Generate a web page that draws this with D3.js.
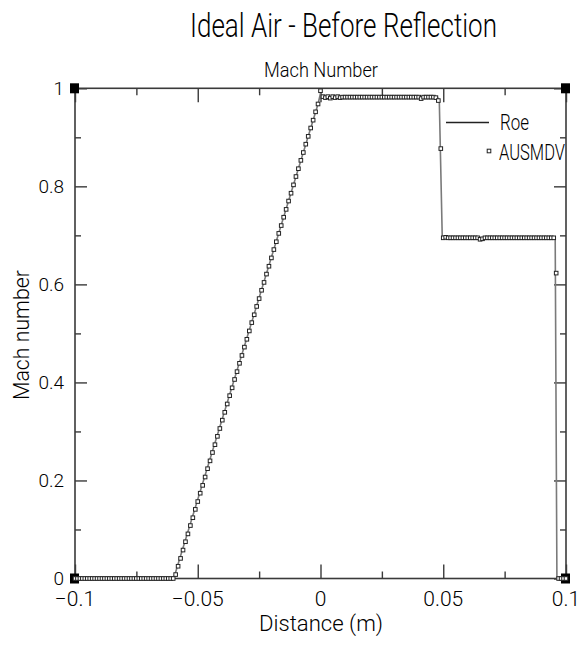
<!DOCTYPE html>
<html>
<head>
<meta charset="utf-8">
<script src="https://cdn.jsdelivr.net/npm/d3@7"></script>
<style>
  html, body { margin: 0; padding: 0; background: #fff; }
  svg { display: block; }
  text { font-family: Roboto, "DejaVu Sans", sans-serif; font-weight: 300; fill: #000; }
</style>
</head>
<body>
<svg id="chart" width="578" height="647"></svg>
<script>
// ---------------- DATA ----------------
const titleText = "Ideal Air - Before Reflection";
const subtitleText = "Mach Number";
const xAxisTitle = "Distance (m)";
const yAxisTitle = "Mach number";

const xTickValues = [-0.1, -0.05, 0, 0.05, 0.1];
const xTickLabels = ["\u22120.1", "\u22120.05", "0", "0.05", "0.1"];
const xMinorTicks = [-0.075, -0.025, 0.025, 0.075];
const yTickValues = [0, 0.2, 0.4, 0.6, 0.8, 1];
const yTickLabels = ["0", "0.2", "0.4", "0.6", "0.8", "1"];
const yMinorTicks = [0.1, 0.3, 0.5, 0.7, 0.9];

const seriesNames = ["Roe", "AUSMDV"];

// Roe solution (corner points of the solid line), distance in m
const roeDistance = [-0.1, -0.0598, -0.001, 0.0, 0.001, 0.0476, 0.0484, 0.0496, 0.0956, 0.0963, 0.1];
const roeMach     = [0,     0,      0.968,  0.99, 0.982, 0.982, 0.972, 0.695, 0.695, 0,      0];

// AUSMDV solution (square markers): distance in mm
const ausmdvDistanceMm = [
 -100,-99,-98,-97,-96,-95,-94,-93,-92,-91,-90,-89,-88,-87,-86,-85,-84,-83,-82,-81,
 -80,-79,-78,-77,-76,-75,-74,-73,-72,-71,-70,-69,-68,-67,-66,-65,-64,-63,-62,-61,
 -60,-59,-58,-57,-56,-55,-54,-53,-52,-51,-50,-49,-48,-47,-46,-45,-44,-43,-42,-41,
 -40,-39,-38,-37,-36,-35,-34,-33,-32,-31,-30,-29,-28,-27,-26,-25,-24,-23,-22,-21,
 -20,-19,-18,-17,-16,-15,-14,-13,-12,-11,-10,-9,-8,-7,-6,-5,-4,-3,-2,-1,
 0,1,2,3,4,5,6,7,8,9,10,11,12,13,14,15,16,17,18,19,
 20,21,22,23,24,25,26,27,28,29,30,31,32,33,34,35,36,37,38,39,
 40,41,42,43,44,45,46,47,48,49,50,51,52,53,54,55,56,57,58,59,
 60,61,62,63,64,65,66,67,68,69,70,71,72,73,74,75,76,77,78,79,
 80,81,82,83,84,85,86,87,88,89,90,91,92,93,94,95,96,97,98,99,
 100
];
const ausmdvMach = [
 0,0,0,0,0,0,0,0,0,0,0,0,0,0,0,0,0,0,0,0,
 0,0,0,0,0,0,0,0,0,0,0,0,0,0,0,0,0,0,0,0,
 0,0.008,0.025,0.041,0.058,0.075,0.091,0.108,0.124,0.141,0.157,0.174,0.190,0.207,0.224,0.240,0.257,0.273,0.290,0.306,
 0.323,0.339,0.356,0.373,0.389,0.406,0.422,0.439,0.455,0.472,0.488,0.505,0.522,0.538,0.555,0.571,0.588,0.604,0.621,0.637,
 0.654,0.671,0.687,0.704,0.720,0.737,0.753,0.770,0.786,0.803,0.820,0.836,0.853,0.869,0.886,0.902,0.919,0.935,0.952,0.968,
 0.995,0.983,0.981,0.983,0.980,0.983,0.981,0.983,0.981,0.982,0.982,0.982,0.982,0.982,0.982,0.982,0.982,0.982,0.982,0.982,
 0.982,0.982,0.982,0.982,0.982,0.982,0.982,0.982,0.982,0.982,0.982,0.982,0.982,0.982,0.982,0.982,0.982,0.982,0.982,0.982,
 0.982,0.979,0.982,0.982,0.982,0.982,0.982,0.981,0.975,0.877,0.695,0.696,0.695,0.695,0.695,0.695,0.695,0.695,0.695,0.695,
 0.695,0.695,0.695,0.695,0.695,0.692,0.693,0.695,0.695,0.695,0.695,0.695,0.695,0.695,0.695,0.695,0.695,0.695,0.695,0.695,
 0.695,0.695,0.695,0.695,0.695,0.695,0.695,0.695,0.695,0.695,0.695,0.695,0.695,0.695,0.695,0.695,0.623,0,0,0,
 0
];

// ---------------- CHART ----------------
const svg = d3.select("#chart");
const plotL = 75, plotR = 566, plotT = 88.3, plotB = 578.5;

const x = d3.scaleLinear().domain([-0.1, 0.1]).range([plotL, plotR]);
const y = d3.scaleLinear().domain([0, 1]).range([plotB, plotT]);

const axisColor = "#3a3a3a";

// Frame
svg.append("rect")
  .attr("x", plotL).attr("y", plotT)
  .attr("width", plotR - plotL).attr("height", plotB - plotT)
  .attr("fill", "none").attr("stroke", axisColor).attr("stroke-width", 1.6);

// Axes with inward ticks on all four sides
function styleAxis(g) {
  g.select(".domain").remove();
  g.selectAll(".tick line").attr("stroke", axisColor).attr("stroke-width", 1.4);
  g.selectAll(".tick text").remove();
}
const xMajLen = 14, xMinLen = 7, yMajLen = 12, yMinLen = 6;

svg.append("g").attr("transform", `translate(0,${plotB})`)
  .call(d3.axisTop(x).tickValues(xTickValues).tickSize(xMajLen)).call(styleAxis);
svg.append("g").attr("transform", `translate(0,${plotB})`)
  .call(d3.axisTop(x).tickValues(xMinorTicks).tickSize(xMinLen)).call(styleAxis);
svg.append("g").attr("transform", `translate(0,${plotT})`)
  .call(d3.axisBottom(x).tickValues(xTickValues).tickSize(xMajLen)).call(styleAxis);
svg.append("g").attr("transform", `translate(0,${plotT})`)
  .call(d3.axisBottom(x).tickValues(xMinorTicks).tickSize(xMinLen)).call(styleAxis);
svg.append("g").attr("transform", `translate(${plotL},0)`)
  .call(d3.axisRight(y).tickValues(yTickValues).tickSize(yMajLen)).call(styleAxis);
svg.append("g").attr("transform", `translate(${plotL},0)`)
  .call(d3.axisRight(y).tickValues(yMinorTicks).tickSize(yMinLen)).call(styleAxis);
svg.append("g").attr("transform", `translate(${plotR},0)`)
  .call(d3.axisLeft(y).tickValues(yTickValues).tickSize(yMajLen)).call(styleAxis);
svg.append("g").attr("transform", `translate(${plotR},0)`)
  .call(d3.axisLeft(y).tickValues(yMinorTicks).tickSize(yMinLen)).call(styleAxis);

// Tick labels
svg.append("g").selectAll("text").data(xTickValues).join("text")
  .attr("x", d => x(d)).attr("y", 606)
  .attr("text-anchor", "middle").attr("font-size", 21)
  .text((d, i) => xTickLabels[i]);
svg.append("g").selectAll("text").data(yTickValues).join("text")
  .attr("x", 64).attr("y", d => y(d) + 6.5)
  .attr("text-anchor", "end").attr("font-size", 19)
  .text((d, i) => yTickLabels[i]);

// Corner markers
const corners = [[-0.1, 0], [-0.1, 1], [0.1, 0], [0.1, 1]];
svg.append("g").selectAll("rect").data(corners).join("rect")
  .attr("x", d => x(d[0]) - 5).attr("y", d => y(d[1]) - 5)
  .attr("width", 9).attr("height", 10).attr("fill", "#000");

// Roe line
const line = d3.line().x(d => x(d[0])).y(d => y(d[1]));
const roePts = roeDistance.map((d, i) => [d, roeMach[i]]);
svg.append("path").datum(roePts)
  .attr("d", line).attr("fill", "none")
  .attr("stroke", "#7a7a7a").attr("stroke-width", 1.6);

// AUSMDV markers
const ausPts = ausmdvDistanceMm.map((d, i) => [d / 1000, ausmdvMach[i]]);
const ms = 3.6;
svg.append("g").selectAll("rect").data(ausPts).join("rect")
  .attr("x", d => x(d[0]) - ms / 2).attr("y", d => y(d[1]) - ms / 2)
  .attr("width", ms).attr("height", ms)
  .attr("fill", "#fff").attr("stroke", "#222").attr("stroke-width", 1);

// Legend
svg.append("line").attr("x1", 446).attr("x2", 489).attr("y1", 122.5).attr("y2", 122.5)
  .attr("stroke", "#222").attr("stroke-width", 1.4);
svg.append("text").attr("x", 500).attr("y", 130).attr("font-size", 22)
  .attr("textLength", 29).attr("lengthAdjust", "spacingAndGlyphs").text(seriesNames[0]);
svg.append("rect").attr("x", 489 - ms / 2).attr("y", 151 - ms / 2)
  .attr("width", ms).attr("height", ms)
  .attr("fill", "#fff").attr("stroke", "#222").attr("stroke-width", 1);
svg.append("text").attr("x", 499).attr("y", 160).attr("font-size", 22)
  .attr("textLength", 66).attr("lengthAdjust", "spacingAndGlyphs").text(seriesNames[1]);

// Titles
svg.append("text").attr("x", 190).attr("y", 37).attr("font-size", 34)
  .attr("textLength", 307).attr("lengthAdjust", "spacingAndGlyphs").text(titleText);
svg.append("text").attr("x", 264).attr("y", 77).attr("font-size", 20)
  .attr("textLength", 114).attr("lengthAdjust", "spacingAndGlyphs").text(subtitleText);
svg.append("text").attr("x", 259).attr("y", 631).attr("font-size", 22)
  .attr("textLength", 124).attr("lengthAdjust", "spacingAndGlyphs").text(xAxisTitle);
svg.append("text")
  .attr("transform", "translate(29,400) rotate(-90)")
  .attr("font-size", 22)
  .attr("textLength", 130).attr("lengthAdjust", "spacingAndGlyphs").text(yAxisTitle);
</script>
</body>
</html>
